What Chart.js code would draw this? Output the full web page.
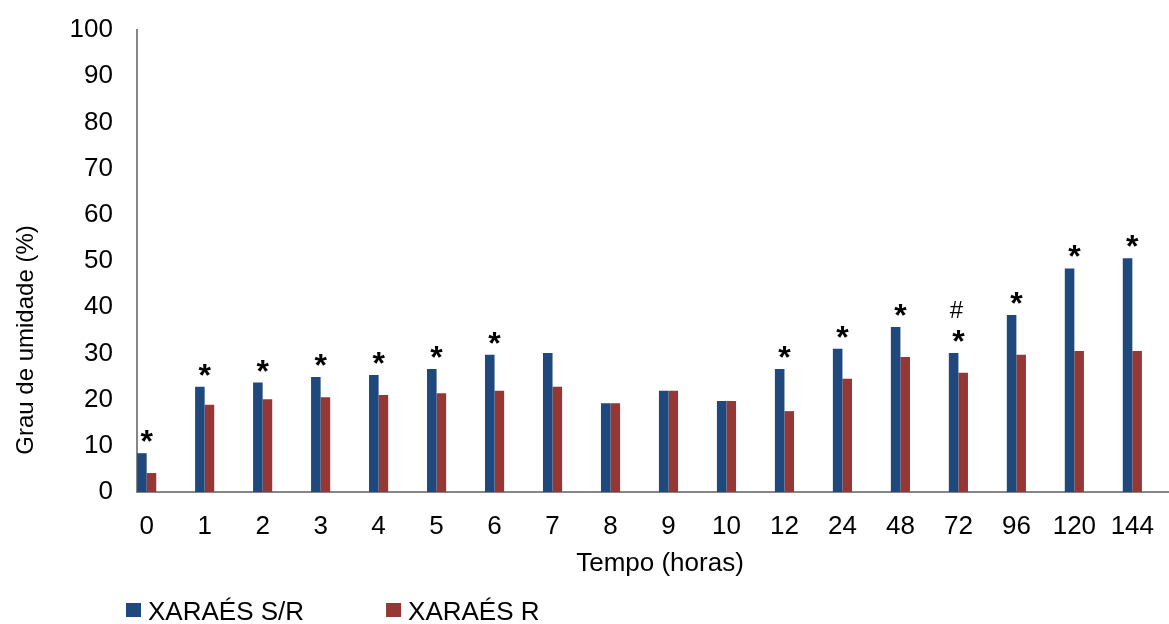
<!DOCTYPE html>
<html>
<head>
<meta charset="utf-8">
<script src="https://cdn.jsdelivr.net/npm/chart.js@4.4.0/dist/chart.umd.min.js"></script>
<style>
  html, body { margin: 0; padding: 0; background: #ffffff; }
  #wrap { width: 1169px; height: 624px; position: relative; }
</style>
</head>
<body>
<div id="wrap"><canvas id="c" width="1169" height="624"></canvas></div>
<script>
// ---- data ----
const hours = ['0','1','2','3','4','5','6','7','8','9','10','12','24','48','72','96','120','144'];
const xaraesSR = [8.4, 22.8, 23.7, 24.9, 25.3, 26.6, 29.7, 30.1, 19.2, 21.9, 19.7, 26.6, 31.0, 35.7, 30.1, 38.3, 48.4, 50.6];
const xaraesR  = [4.1, 18.9, 20.1, 20.5, 21.0, 21.4, 21.9, 22.8, 19.2, 21.9, 19.7, 17.5, 24.5, 29.2, 25.8, 29.7, 30.5, 30.5];
const starMarks = ['*','*','*','*','*','*','*','','','','','*','*','*','*','*','*','*'];
const hashMarks = ['','','','','','','','','','','','','','','#','','',''];
const seriesNames = ['XARAÉS S/R', 'XARAÉS R'];
const seriesColors = ['#1F497D', '#953735'];
const yTitle = 'Grau de umidade (%)';
const xTitle = 'Tempo (horas)';

const FONT = "'Liberation Sans', Arial, sans-serif";
Chart.defaults.font.family = FONT;
Chart.defaults.font.size = 26;
Chart.defaults.color = '#000000';

const AXIS = '#868686';

const marksPlugin = {
  id: 'marks',
  afterDatasetsDraw(chart) {
    const ctx = chart.ctx;
    const meta = chart.getDatasetMeta(0);
    ctx.save();
    ctx.fillStyle = '#000';
    ctx.textAlign = 'center';
    ctx.textBaseline = 'alphabetic';
    meta.data.forEach((bar, i) => {
      const cx = bar.x + bar.width / 2;
      if (starMarks[i]) {
        ctx.font = 'bold 32px ' + FONT;
        ctx.fillText(starMarks[i], cx, bar.y - 1);
      }
      if (hashMarks[i]) {
        ctx.font = '24px ' + FONT;
        ctx.fillText(hashMarks[i], cx - 2, bar.y - 35);
      }
    });
    ctx.restore();
  }
};

const decorPlugin = {
  id: 'decor',
  afterDraw(chart) {
    const ctx = chart.ctx;
    // y-axis title
    ctx.save();
    ctx.font = '24px ' + FONT;
    ctx.fillStyle = '#000';
    ctx.translate(33, 340);
    ctx.rotate(-Math.PI / 2);
    ctx.textAlign = 'center';
    ctx.textBaseline = 'alphabetic';
    ctx.fillText(yTitle, 0, 0);
    ctx.restore();

    // x-axis title
    ctx.save();
    ctx.font = '26px ' + FONT;
    ctx.fillStyle = '#000';
    ctx.textAlign = 'center';
    ctx.textBaseline = 'alphabetic';
    ctx.fillText(xTitle, 660, 571);
    ctx.restore();

    // legend
    ctx.save();
    ctx.font = '26px ' + FONT;
    ctx.textAlign = 'left';
    ctx.textBaseline = 'alphabetic';
    let x = 126;
    chart.data.datasets.forEach((ds) => {
      ctx.fillStyle = ds.backgroundColor;
      ctx.fillRect(x, 603, 15, 14);
      ctx.fillStyle = '#000';
      ctx.fillText(ds.label, x + 22, 620);
      x += 22 + ctx.measureText(ds.label).width + 82;
    });
    ctx.restore();
  }
};

new Chart(document.getElementById('c'), {
  type: 'bar',
  data: {
    datasets: [
      { label: seriesNames[0], backgroundColor: seriesColors[0], borderWidth: 0,
        data: xaraesSR.map((v, i) => ({ x: i, y: v })) },
      { label: seriesNames[1], backgroundColor: seriesColors[1], borderWidth: 0,
        data: xaraesR.map((v, i) => ({ x: i, y: v })) }
    ]
  },
  options: {
    responsive: false,
    animation: false,
    devicePixelRatio: 1,
    categoryPercentage: 0.33,
    barPercentage: 1.0,
    layout: { padding: { left: 0, right: 1, top: 30, bottom: 46 } },
    plugins: { legend: { display: false }, tooltip: { enabled: false }, title: { display: false } },
    scales: {
      x: {
        type: 'linear',
        min: -0.167,
        max: 17.615,
        offset: false,
        grid: { display: false, drawTicks: false },
        border: { display: true, color: AXIS, width: 2 },
        ticks: {
          stepSize: 1, includeBounds: false, autoSkip: false, maxRotation: 0, minRotation: 0,
          padding: 19, color: '#000', font: { size: 26 },
          callback: (v) => Number.isInteger(v) && hours[v] !== undefined ? hours[v] : ''
        },
        title: { display: false },
        afterFit: (s) => { s.height = 86; s.paddingLeft = 0; s.paddingRight = 0; }
      },
      y: {
        min: 0, max: 100,
        grid: { display: false, drawTicks: false },
        border: { display: true, color: AXIS, width: 2 },
        ticks: { stepSize: 10, padding: 24, color: '#000', font: { size: 26 } },
        afterFit: (s) => { s.width = 137; s.paddingTop = 0; s.paddingBottom = 0; }
      }
    }
  },
  plugins: [marksPlugin, decorPlugin]
});
</script>
</body>
</html>
